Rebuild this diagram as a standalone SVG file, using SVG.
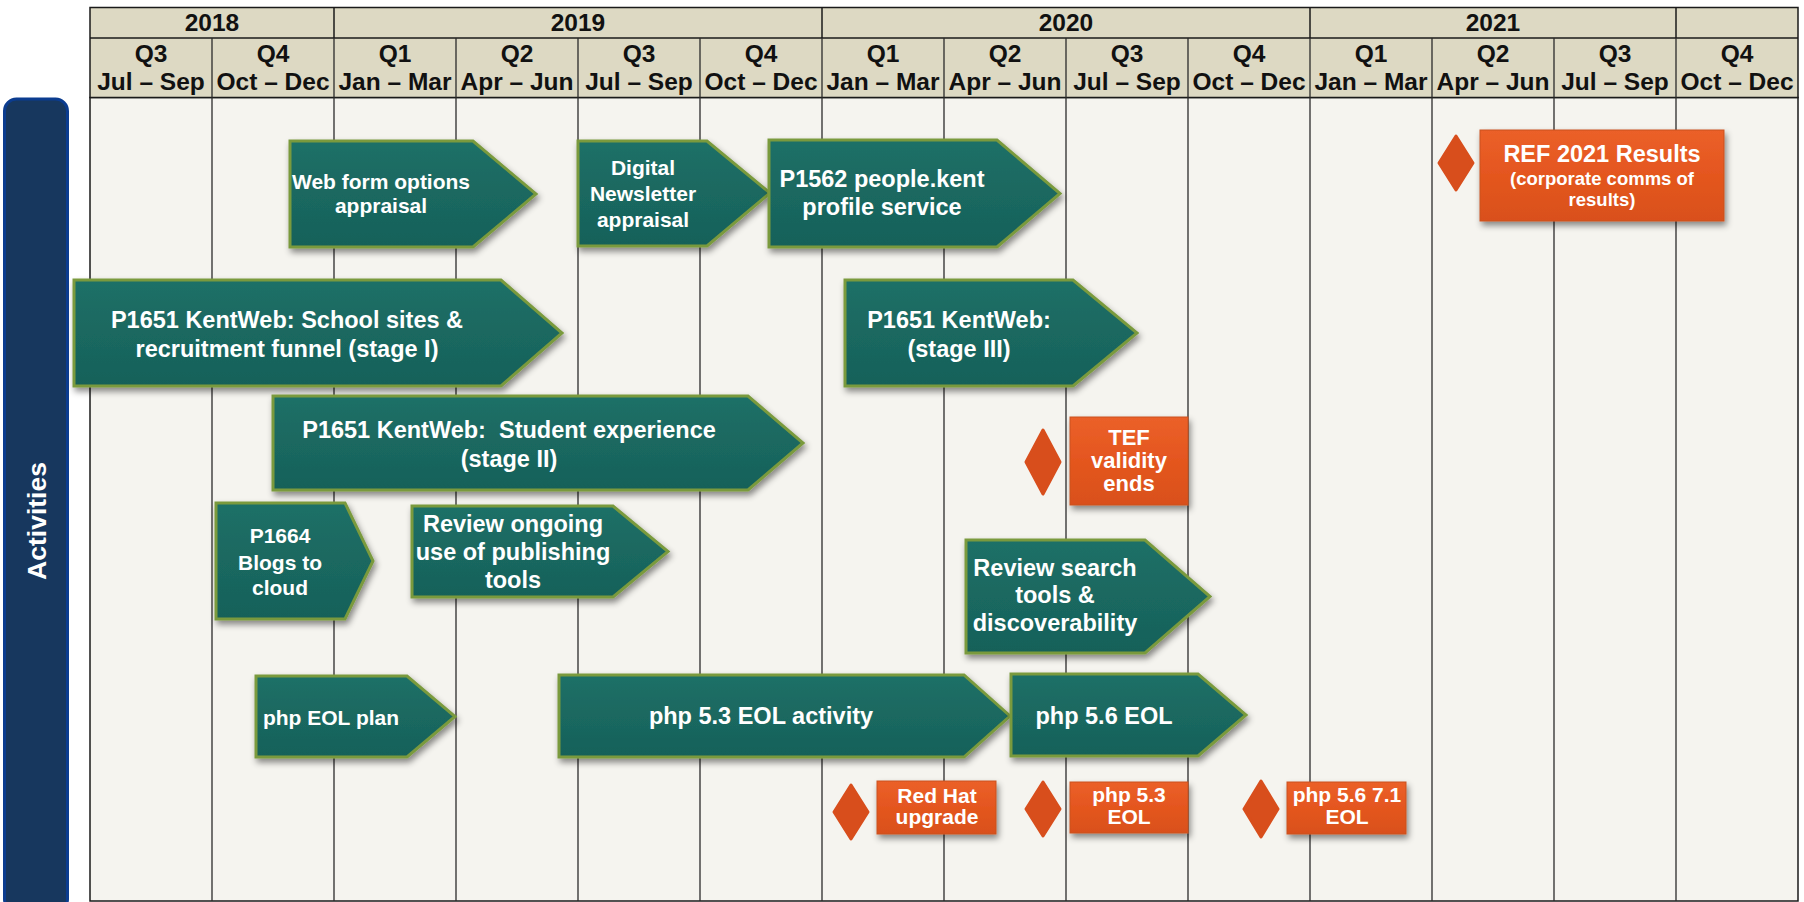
<svg xmlns="http://www.w3.org/2000/svg" width="1804" height="902" viewBox="0 0 1804 902">
<style>
.hdr{fill:#DDD9C3;stroke:#1a1a1a;stroke-width:1.5}
.body{fill:#F5F4EF;stroke:#1a1a1a;stroke-width:1.5}
.vl{stroke:#2a2a2a;stroke-width:1.3}
.ht{font-family:"Liberation Sans",Arial,sans-serif;font-weight:bold;font-size:24.5px;fill:#111;text-anchor:middle}
.act{fill:url(#tealG);stroke:#7A9A3E;stroke-width:3;stroke-linejoin:miter;filter:url(#sh)}
.ms{fill:url(#orgG);stroke:#C9521F;stroke-width:1;filter:url(#sh)}
.dia{fill:#D84E1C;stroke:#D84E1C;stroke-width:3;stroke-linejoin:round}
.t{font-family:"Liberation Sans",Arial,sans-serif;font-weight:bold;fill:#fff;text-anchor:middle}
.t24{font-size:23.5px}
.t21{font-size:21px}
.t18{font-size:18.5px}
</style>
<defs>
<filter id="sh" x="-10%" y="-15%" width="125%" height="140%">
<feDropShadow dx="2" dy="4" stdDeviation="3" flood-color="#000" flood-opacity="0.45"/>
</filter>
<linearGradient id="tealG" x1="0" y1="0" x2="0" y2="1">
<stop offset="0" stop-color="#1F7067"/>
<stop offset="0.5" stop-color="#1A6860"/>
<stop offset="1" stop-color="#176159"/>
</linearGradient>
<linearGradient id="orgG" x1="0" y1="0" x2="0" y2="1">
<stop offset="0" stop-color="#EB6029"/>
<stop offset="0.5" stop-color="#E4561F"/>
<stop offset="1" stop-color="#D9501C"/>
</linearGradient>
</defs>
<rect width="1804" height="902" fill="#ffffff"/>

<g id="sidebar">
<rect x="4.5" y="99" width="63" height="812" rx="12" ry="12" fill="#17375E" stroke="#0B3C8F" stroke-width="3"/>
<text class="t" font-size="26.5" transform="translate(45.5,521) rotate(-90)">Activities</text>
</g>

<g id="timeline">
<rect class="body" x="90" y="97.5" width="1708" height="803.5"/>
<rect class="hdr" x="90" y="7.5" width="1708" height="90"/>
<line x1="90" y1="38" x2="1798" y2="38" stroke="#1a1a1a" stroke-width="1.5"/>
<g stroke="#1a1a1a" stroke-width="1.5">
<line x1="334" y1="7.5" x2="334" y2="38"/>
<line x1="822" y1="7.5" x2="822" y2="38"/>
<line x1="1310" y1="7.5" x2="1310" y2="38"/>
<line x1="1676" y1="7.5" x2="1676" y2="38"/>
</g>
<g class="vl">
<line x1="212" y1="38" x2="212" y2="901"/>
<line x1="334" y1="38" x2="334" y2="901"/>
<line x1="456" y1="38" x2="456" y2="901"/>
<line x1="578" y1="38" x2="578" y2="901"/>
<line x1="700" y1="38" x2="700" y2="901"/>
<line x1="822" y1="38" x2="822" y2="901"/>
<line x1="944" y1="38" x2="944" y2="901"/>
<line x1="1066" y1="38" x2="1066" y2="901"/>
<line x1="1188" y1="38" x2="1188" y2="901"/>
<line x1="1310" y1="38" x2="1310" y2="901"/>
<line x1="1432" y1="38" x2="1432" y2="901"/>
<line x1="1554" y1="38" x2="1554" y2="901"/>
<line x1="1676" y1="38" x2="1676" y2="901"/>
</g>
<text class="ht" x="212" y="31">2018</text>
<text class="ht" x="578" y="31">2019</text>
<text class="ht" x="1066" y="31">2020</text>
<text class="ht" x="1493" y="31">2021</text>
<g class="ht">
<text x="151" y="62">Q3</text><text x="151" y="89.5">Jul – Sep</text>
<text x="273" y="62">Q4</text><text x="273" y="89.5">Oct – Dec</text>
<text x="395" y="62">Q1</text><text x="395" y="89.5">Jan – Mar</text>
<text x="517" y="62">Q2</text><text x="517" y="89.5">Apr – Jun</text>
<text x="639" y="62">Q3</text><text x="639" y="89.5">Jul – Sep</text>
<text x="761" y="62">Q4</text><text x="761" y="89.5">Oct – Dec</text>
<text x="883" y="62">Q1</text><text x="883" y="89.5">Jan – Mar</text>
<text x="1005" y="62">Q2</text><text x="1005" y="89.5">Apr – Jun</text>
<text x="1127" y="62">Q3</text><text x="1127" y="89.5">Jul – Sep</text>
<text x="1249" y="62">Q4</text><text x="1249" y="89.5">Oct – Dec</text>
<text x="1371" y="62">Q1</text><text x="1371" y="89.5">Jan – Mar</text>
<text x="1493" y="62">Q2</text><text x="1493" y="89.5">Apr – Jun</text>
<text x="1615" y="62">Q3</text><text x="1615" y="89.5">Jul – Sep</text>
<text x="1737" y="62">Q4</text><text x="1737" y="89.5">Oct – Dec</text>
</g>
</g>

<g id="connectors"/>

<g id="web-form">
<path class="act" d="M290,141 H473 L536,194 L473,247 H290 Z"/>
<text class="t t21" x="381" y="189">Web form options</text>
<text class="t t21" x="381" y="213">appraisal</text>
</g>

<g id="digital-newsletter">
<path class="act" d="M578,141 H707 L770,193 L707,246 H578 Z"/>
<text class="t t21" x="643" y="175">Digital</text>
<text class="t t21" x="643" y="201">Newsletter</text>
<text class="t t21" x="643" y="227">appraisal</text>
</g>

<g id="p1562">
<path class="act" d="M769,140 H997 L1060,193.5 L997,247 H769 Z"/>
<text class="t t24" x="882" y="187">P1562 people.kent</text>
<text class="t t24" x="882" y="215">profile service</text>
</g>

<g id="ref2021">
<path class="dia" d="M1456,136 L1473,163 L1456,190 L1439,163 Z"/>
<rect class="ms" x="1480" y="130" width="244" height="91"/>
<text class="t t24" x="1602" y="162">REF 2021 Results</text>
<text class="t t18" x="1602" y="185">(corporate comms of</text>
<text class="t t18" x="1602" y="206">results)</text>
</g>

<g id="stage1">
<path class="act" d="M74,280 H501 L562,333 L501,386 H74 Z"/>
<text class="t t24" x="287" y="328">P1651 KentWeb: School sites &amp;</text>
<text class="t t24" x="287" y="357">recruitment funnel (stage I)</text>
</g>

<g id="stage3">
<path class="act" d="M845,280 H1073 L1137,333 L1073,386 H845 Z"/>
<text class="t t24" x="959" y="328">P1651 KentWeb:</text>
<text class="t t24" x="959" y="357">(stage III)</text>
</g>

<g id="stage2">
<path class="act" d="M273,396 H748 L803,443 L748,490 H273 Z"/>
<text class="t t24" x="509" y="438" xml:space="preserve">P1651 KentWeb:  Student experience</text>
<text class="t t24" x="509" y="467">(stage II)</text>
</g>

<g id="tef">
<path class="dia" d="M1043,430 L1060,462 L1043,494 L1026,462 Z"/>
<rect class="ms" x="1070" y="417" width="118" height="88"/>
<text class="t" font-size="22" x="1129" y="445">TEF</text>
<text class="t" font-size="22" x="1129" y="468">validity</text>
<text class="t" font-size="22" x="1129" y="491">ends</text>
</g>

<g id="p1664">
<path class="act" d="M216,503 H345 L373,561 L345,619 H216 Z"/>
<text class="t t21" x="280" y="543">P1664</text>
<text class="t t21" x="280" y="570">Blogs to</text>
<text class="t t21" x="280" y="595">cloud</text>
</g>

<g id="review-publishing">
<path class="act" d="M412,506 H613 L668,551.5 L613,597 H412 Z"/>
<text class="t t24" x="513" y="532">Review ongoing</text>
<text class="t t24" x="513" y="560">use of publishing</text>
<text class="t t24" x="513" y="588">tools</text>
</g>

<g id="review-search">
<path class="act" d="M966,540 H1145 L1210,596.5 L1145,653 H966 Z"/>
<text class="t t24" x="1055" y="576">Review search</text>
<text class="t t24" x="1055" y="603">tools &amp;</text>
<text class="t t24" x="1055" y="631">discoverability</text>
</g>

<g id="php-eol-plan">
<path class="act" d="M256,676 H407 L455,716.5 L407,757 H256 Z"/>
<text class="t t21" x="331" y="725">php EOL plan</text>
</g>

<g id="php53-activity">
<path class="act" d="M559,675 H964 L1010,716 L964,757 H559 Z"/>
<text class="t t24" x="761" y="724">php 5.3 EOL activity</text>
</g>

<g id="php56-eol">
<path class="act" d="M1011,674 H1198 L1246,715 L1198,756 H1011 Z"/>
<text class="t t24" x="1104" y="724">php 5.6 EOL</text>
</g>

<g id="redhat">
<path class="dia" d="M851,785 L868,812 L851,839 L834,812 Z"/>
<rect class="ms" x="877" y="781" width="119" height="53"/>
<text class="t t21" x="937" y="803">Red Hat</text>
<text class="t t21" x="937" y="824">upgrade</text>
</g>

<g id="php53-eol">
<path class="dia" d="M1043,782 L1060,809 L1043,836 L1026,809 Z"/>
<rect class="ms" x="1070" y="782" width="118" height="51"/>
<text class="t t21" x="1129" y="802">php 5.3</text>
<text class="t t21" x="1129" y="824">EOL</text>
</g>

<g id="php56-71-eol">
<path class="dia" d="M1261,781 L1278,809 L1261,837 L1244,809 Z"/>
<rect class="ms" x="1287" y="782" width="119" height="52"/>
<text class="t t21" x="1347" y="802">php 5.6 7.1</text>
<text class="t t21" x="1347" y="824">EOL</text>
</g>
</svg>
